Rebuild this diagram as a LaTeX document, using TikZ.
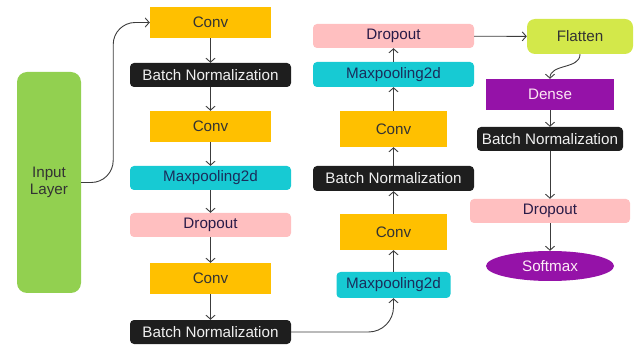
\documentclass[tikz,border=0pt]{standalone}
\usepackage{fontspec}
\setmainfont{Liberation Sans}
\usetikzlibrary{arrows.meta,shapes.geometric}
\definecolor{convc}{HTML}{FFC000}
\definecolor{bnc}{HTML}{1E1E1E}
\definecolor{mpc}{HTML}{17CAD3}
\definecolor{drc}{HTML}{FFBFC0}
\definecolor{inc}{HTML}{92D050}
\definecolor{flc}{HTML}{D3E84A}
\definecolor{dec}{HTML}{9512A8}
\definecolor{linec}{HTML}{3C3C3C}
\definecolor{navy}{HTML}{1A2E5C}
\definecolor{plum}{HTML}{2A1B48}
\begin{document}
\begin{tikzpicture}[x=1pt,y=-1pt,
  every node/.style={inner sep=0pt,font=\fontsize{15.2}{17}\selectfont},
  convbox/.style={fill=convc,text=black!80,minimum width=121pt,minimum height=31pt},
  bnbox/.style={fill=bnc,text=white!94!black,rounded corners=4pt,minimum width=161pt,minimum height=24pt},
  mpbox/.style={fill=mpc,text=navy,rounded corners=4pt,minimum width=161pt,minimum height=24pt},
  drbox/.style={fill=drc,text=plum,rounded corners=4pt,minimum width=161pt,minimum height=24pt},
  conn/.style={draw=linec,line width=0.9pt,-{Straight Barb[length=4pt,width=9pt,line width=0.9pt]}}
]
\useasboundingbox (0,0) rectangle (637,347);
% column 0
\node[fill=inc,text=black!80,rounded corners=10pt,minimum width=64pt,minimum height=221pt,align=center] (inp) at (49,182.5) {Input\\Layer};
% column 1
\node[convbox] (c1) at (210.5,22.5) {Conv};
\node[bnbox] (bn1) at (210.5,75) {Batch Normalization};
\node[convbox] (c2) at (210.5,126.5) {Conv};
\node[mpbox] (mp1) at (210.5,178) {Maxpooling2d};
\node[drbox] (dr1) at (210.5,225) {Dropout};
\node[convbox] (c3) at (210.5,278.5) {Conv};
\node[bnbox] (bn2) at (210.5,332) {Batch Normalization};
% column 2
\node[drbox] (dr2) at (393.5,36) {Dropout};
\node[mpbox,minimum height=25pt] (mp2) at (393.5,74.5) {Maxpooling2d};
\node[convbox,minimum width=107pt,minimum height=36pt] (c4) at (393.5,129) {Conv};
\node[bnbox,minimum height=25pt] (bn3) at (393.5,178.5) {Batch Normalization};
\node[convbox,minimum width=107pt,minimum height=36pt] (c5) at (393.5,232) {Conv};
\node[mpbox,minimum width=114pt,minimum height=26pt] (mp3) at (393.5,285) {Maxpooling2d};
% column 3
\node[fill=flc,text=black!80,rounded corners=8pt,minimum width=106pt,minimum height=35pt] (fl) at (580,36.5) {Flatten};
\node[fill=dec,text=white!90!magenta,minimum width=128pt,minimum height=31pt] (de) at (550,94.5) {Dense};
\node[bnbox,minimum width=146pt] (bn4) at (550,139) {Batch Normalization};
\node[drbox,minimum width=160pt] (dr3) at (550,211) {Dropout};
\node[ellipse,fill=dec,text=white!92!magenta,minimum width=128pt,minimum height=30pt] (sm) at (550,266) {Softmax};
% connectors
\draw[conn,rounded corners=22pt] (inp.east) -- ++(32,0) |- (c1.west);
\draw[conn] (c1) -- (bn1);
\draw[conn] (bn1) -- (c2);
\draw[conn] (c2) -- (mp1);
\draw[conn] (mp1) -- (dr1);
\draw[conn] (dr1) -- (c3);
\draw[conn] (c3) -- (bn2);
\draw[conn,rounded corners=25pt] (bn2.east) -| (mp3.south);
\draw[conn] (mp3) -- (c5);
\draw[conn] (c5) -- (bn3);
\draw[conn] (bn3) -- (c4);
\draw[conn] (c4) -- (mp2);
\draw[conn] (mp2) -- (dr2);
\draw[conn] (dr2) -- (fl);
\draw[conn] (fl.south) to[out=-90,in=90] (de.north);
\draw[conn] (de) -- (bn4);
\draw[conn] (bn4) -- (dr3);
\draw[conn] (dr3) -- (sm);
\end{tikzpicture}
\end{document}
